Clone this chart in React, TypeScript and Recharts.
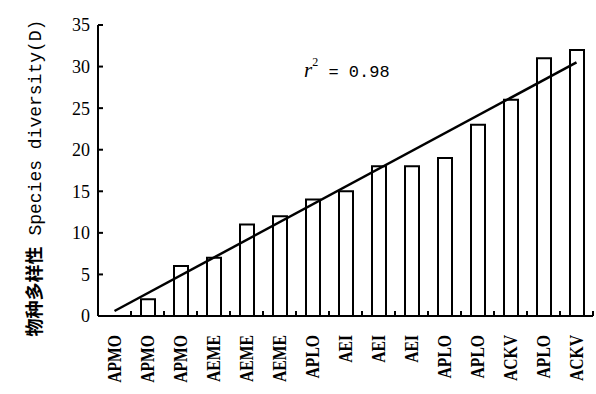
import React from 'react';
import { ComposedChart, Bar, Line, XAxis, YAxis, Customized } from 'recharts';

// categories along the x axis
const sites = ['APMO', 'APMO', 'APMO', 'AEME', 'AEME', 'AEME', 'APLO', 'AEI', 'AEI', 'AEI', 'APLO', 'APLO', 'ACKV', 'APLO', 'ACKV'];
// species diversity (D) per site
const diversity = [0, 2, 6, 7, 11, 12, 14, 15, 18, 18, 19, 23, 26, 31, 32];
// fitted trend line, read at its two ends
const trend: (number | null)[] = [0.6, null, null, null, null, null, null, null, null, null, null, null, null, null, 30.5];
const yTicks = [0, 5, 10, 15, 20, 25, 30, 35];

const data = sites.map((s, i) => ({ site: s, d: diversity[i], trend: trend[i] }));

const SiteTick = (props: any) => {
    const { x, y, payload } = props;
    const half = payload && payload.offset ? payload.offset : 16.5;
    return (
        <g>
            <line x1={x + half} x2={x + half} y1={y} y2={y - 5} stroke="#000" strokeWidth={2} />
            <text
                transform={`translate(${x + 6},${y + 19}) rotate(-90) scale(0.87,1)`}
                textAnchor="end"
                fontFamily="'Liberation Serif', serif"
                fontWeight="bold"
                fontSize={18}
                fill="#000"
            >
                {payload.value}
            </text>
        </g>
    );
};

const YLabel = () => (
    <text transform="translate(41,178) rotate(-90)" textAnchor="middle" fill="#000">
        <tspan fontFamily="'Noto Sans CJK SC', sans-serif" fontWeight="bold" fontSize={18}>物种多样性</tspan>
        <tspan fontFamily="'Liberation Mono', monospace" fontSize={18}> Species diversity(D)</tspan>
    </text>
);

const RSquared = () => (
    <text x={304} y={77} fill="#000">
        <tspan fontFamily="'Liberation Serif', serif" fontStyle="italic" fontSize={21}>r</tspan>
        <tspan fontFamily="'Liberation Serif', serif" fontSize={12} dy={-11}>2</tspan>
        <tspan fontFamily="'Liberation Mono', monospace" fontSize={17} dy={11}> = 0.98</tspan>
    </text>
);

export default function App() {
    return (
        <div style={{ position: 'absolute', left: 0, top: 0, width: 596, height: 394, background: '#fff' }}>
            <ComposedChart width={596} height={394} data={data} margin={{ top: 25, right: 3, bottom: 0, left: 0 }}>
                <XAxis
                    dataKey="site"
                    interval={0}
                    height={78}
                    tickSize={0}
                    tickMargin={0}
                    tickLine={false}
                    axisLine={{ stroke: '#000', strokeWidth: 2 }}
                    tick={<SiteTick />}
                />
                <YAxis
                    width={98}
                    domain={[0, 35]}
                    ticks={yTicks}
                    interval={0}
                    tickSize={-5}
                    tickMargin={13}
                    axisLine={{ stroke: '#000', strokeWidth: 2 }}
                    tickLine={{ stroke: '#000', strokeWidth: 2 }}
                    tick={{ fill: '#000', fontFamily: "'Liberation Serif', serif", fontSize: 18 }}
                />
                <Bar dataKey="d" barSize={14} fill="#fff" stroke="#000" strokeWidth={2} isAnimationActive={false} />
                <Line dataKey="trend" connectNulls dot={false} stroke="#000" strokeWidth={2.5} isAnimationActive={false} />
                <Customized component={YLabel} />
                <Customized component={RSquared} />
            </ComposedChart>
        </div>
    );
}
